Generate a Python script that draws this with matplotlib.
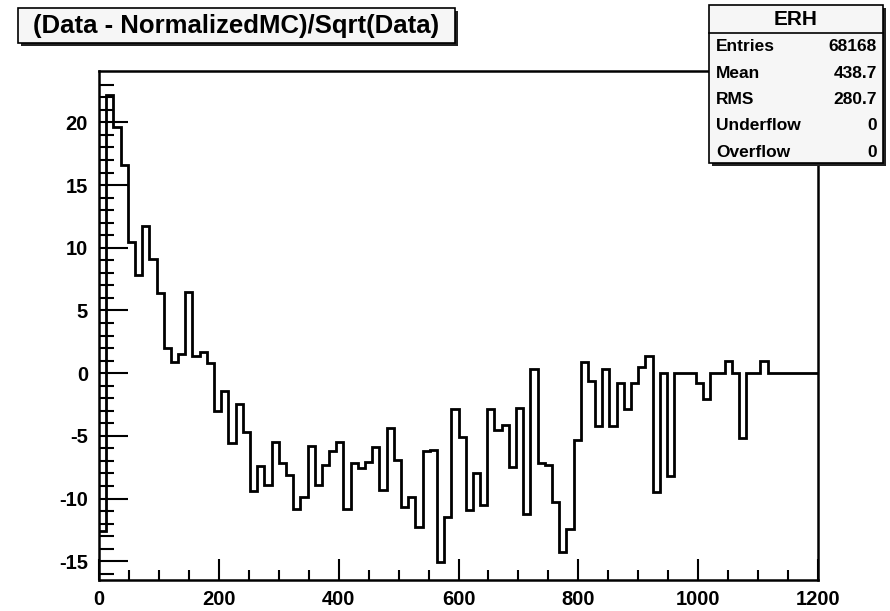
import numpy as np
import matplotlib
matplotlib.use('Agg')
import matplotlib.pyplot as plt
from matplotlib.patches import Rectangle

# histogram ERH: 100 bins from 0 to 1200
n_bins = 100
x_min, x_max = 0, 1200
values = [-12.6, 22.2, 19.6, 16.6, 10.5, 7.8, 11.7, 9.1, 6.4, 2.0,
          0.9, 1.5, 6.5, 1.4, 1.7, 0.8, -3.0, -1.4, -5.6, -2.5,
          -4.7, -9.4, -7.4, -8.9, -5.5, -7.2, -8.1, -10.8, -9.9, -5.8,
          -8.9, -7.3, -6.2, -5.5, -10.8, -7.2, -7.6, -7.1, -5.9, -9.3,
          -4.4, -6.9, -10.7, -9.9, -12.3, -6.2, -6.1, -15.1, -11.5, -2.9,
          -5.1, -10.9, -8.0, -10.5, -2.9, -4.5, -4.1, -7.5, -2.8, -11.2,
          0.3, -7.2, -7.3, -10.3, -14.3, -12.4, -5.3, 0.85, -0.6, -4.2,
          0.3, -4.2, -0.8, -2.9, -0.8, 0.45, 1.4, -9.5, 0.0, -8.2,
          0.0, 0.0, 0.0, -0.8, -2.1, 0.0, 0.0, 1.0, 0.0, -5.2,
          0.0, 0.0, 1.0, 0.0, 0.0, 0.0, 0.0, 0.0, 0.0, 0.0]

title = '(Data - NormalizedMC)/Sqrt(Data)'
stats_name = 'ERH'
stats_labels = ['Entries', 'Mean', 'RMS', 'Underflow', 'Overflow']
stats_values = ['68168', '438.7', '280.7', '0', '0']

plt.rcParams['font.family'] = ['Liberation Sans', 'DejaVu Sans']
plt.rcParams['font.weight'] = 'bold'
plt.rcParams['axes.unicode_minus'] = False

W, H = 890, 611
fig = plt.figure(figsize=(W / 100, H / 100), dpi=100)
fig.patch.set_facecolor('white')

# main frame in pixel units
fx0, fx1, fy0, fy1 = 99, 818, 71, 580
ax = fig.add_axes([fx0 / W, 1 - fy1 / H, (fx1 - fx0) / W, (fy1 - fy0) / H])

edges = np.linspace(x_min, x_max, n_bins + 1)
ax.stairs(values, edges, color='black', lw=2, baseline=None)

ax.set_xlim(0, 1200)
ax.set_ylim(-16.5, 24.1)
ax.set_xticks(np.arange(0, 1201, 200))
ax.set_xticks(np.arange(0, 1201, 50), minor=True)
ax.set_yticks(np.arange(-15, 21, 5))
ax.set_yticks(np.arange(-16, 24, 1), minor=True)
for s in ax.spines.values():
    s.set_linewidth(1.8)
ax.tick_params(axis='x', which='major', direction='in', length=15, width=1.5,
               labelsize=14.5, pad=7, top=False)
ax.tick_params(axis='x', which='minor', direction='in', length=7.5, width=1.5, top=False)
ax.tick_params(axis='y', which='major', direction='in', length=21, width=1.5,
               labelsize=14.5, pad=8, right=False)
ax.tick_params(axis='y', which='minor', direction='in', length=10.5, width=1.5, right=False)

# overlay in pixel coordinates for the ROOT boxes
ov = fig.add_axes([0, 0, 1, 1], zorder=5)
ov.set_xlim(0, W)
ov.set_ylim(H, 0)
ov.axis('off')
ov.patch.set_alpha(0)

# title box with shadow
ov.add_patch(Rectangle((21, 11), 437, 35, facecolor='#222222', edgecolor='none'))
ov.add_patch(Rectangle((18, 8), 437, 35, facecolor='#f6f6f6', edgecolor='black', lw=1.2))
ov.text(236.5, 26, title, ha='center', va='center', fontsize=18.5, weight='bold')

# stats box with shadow
bx0, by0, bx1, by1 = 709, 5, 883, 163
ov.add_patch(Rectangle((bx0 + 3, by0 + 3), bx1 - bx0, by1 - by0, facecolor='#222222', edgecolor='none'))
ov.add_patch(Rectangle((bx0, by0), bx1 - bx0, by1 - by0, facecolor='#f6f6f6', edgecolor='black', lw=1.2))
ov.plot([bx0, bx1], [33, 33], color='black', lw=1.2)
ov.text((bx0 + bx1) / 2, 19.5, stats_name, ha='center', va='center', fontsize=15, weight='bold')
row_y = [46.5, 73, 99.5, 126, 152.5]
for lab, val, yy in zip(stats_labels, stats_values, row_y):
    ov.text(716, yy, lab, ha='left', va='center', fontsize=12.5, weight='bold')
    ov.text(877, yy, val, ha='right', va='center', fontsize=12.5, weight='bold')

fig.savefig('out.png', dpi=100)
